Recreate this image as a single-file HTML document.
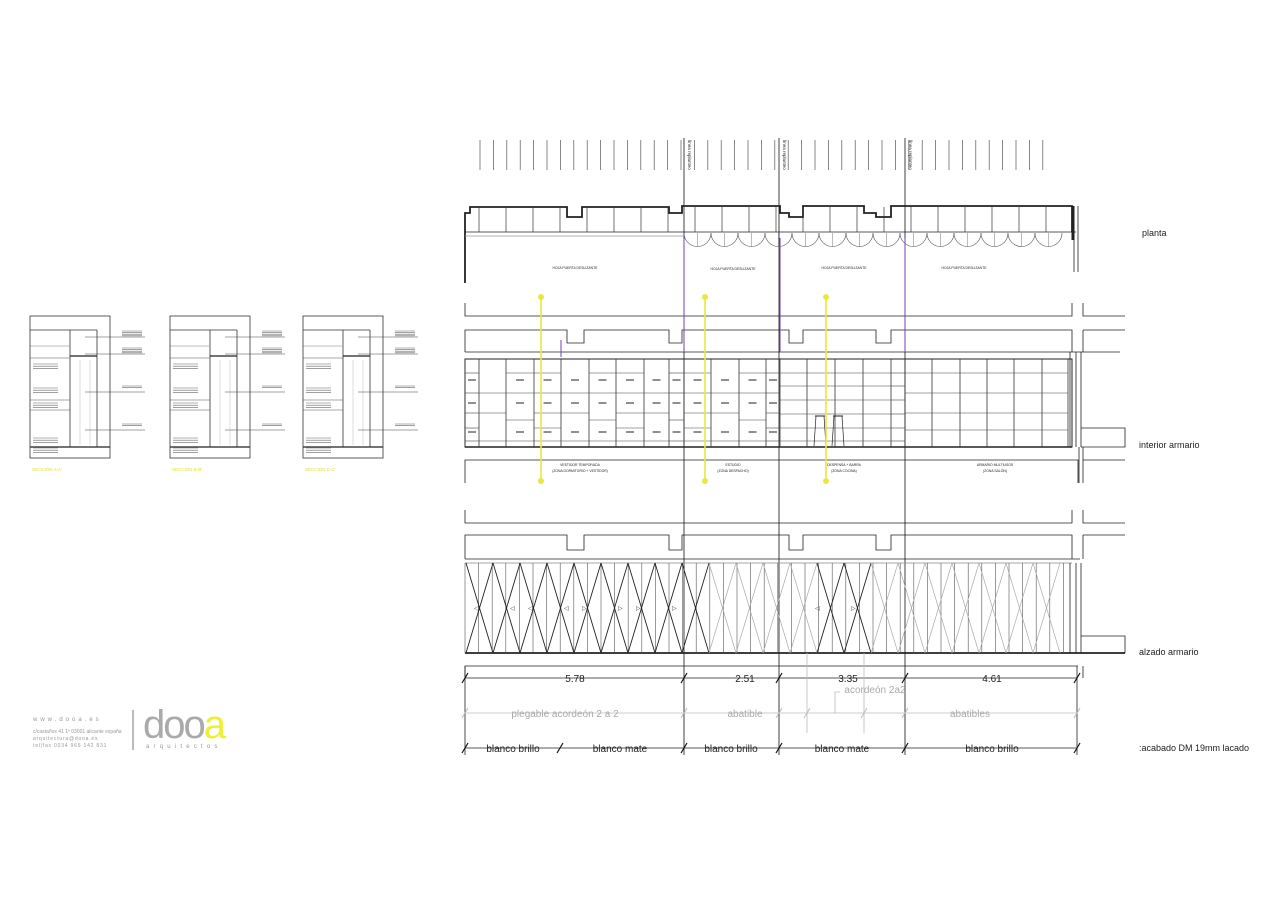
<!DOCTYPE html>
<html><head><meta charset="utf-8"><style>
html,body{margin:0;padding:0;background:#fff;}
svg{display:block;font-family:"Liberation Sans",sans-serif;}
</style></head><body>
<svg id="s" width="1280" height="905" viewBox="0 0 1280 905" xmlns="http://www.w3.org/2000/svg">
<g id="g" fill="none" stroke="#222" stroke-width="0.8">
<line x1="684" y1="138" x2="684" y2="755" stroke="#111"/>
<line x1="779" y1="138" x2="779" y2="755" stroke="#111"/>
<line x1="905" y1="138" x2="905" y2="755" stroke="#111"/>
<path d="M465,283 V213 H470 V207 H567 V217 H582 V207 H669 V213 H682 V206 H780 V213 H789 V217 H803 V206 H864 V213 H876 V217 H891 V206 H1072 V232" stroke-width="1.8"/>
<line x1="465" y1="232" x2="1076" y2="232"/>
<line x1="465" y1="236" x2="684" y2="236" stroke="#999"/>
<line x1="1073" y1="206" x2="1073" y2="240" stroke-width="3"/>
<line x1="1078" y1="206" x2="1078" y2="272"/>
<line x1="1074" y1="240" x2="1074" y2="272"/>
<path d="M465,303 V316 H1072 V303"/>
<path d="M1083,303 V316 H1125"/>
<path d="M465,352 V330 H567 V343 H584 V330 H669 V343 H682 V330 H789 V343 H803 V330 H876 V343 H891 V330 H1072 V352"/>
<path d="M1083,330 H1125 M1083,330 V352"/>
<line x1="465" y1="352" x2="1120" y2="352"/>
<line x1="465" y1="359" x2="1072" y2="359"/>
<rect x="465" y="359" width="607" height="88" stroke-width="1"/>
<line x1="465" y1="447" x2="1072" y2="447" stroke-width="1.6"/>
<line x1="1070" y1="352" x2="1070" y2="447"/><line x1="1076" y1="352" x2="1076" y2="447"/><line x1="1081" y1="352" x2="1081" y2="447"/>
<path d="M1081,428 H1125 V447 H1081"/>
<path d="M465,483 V460 H1078 V483"/>
<path d="M1083,483 V460 H1125 M1083,447 V483 M1079,447 V483"/>
<path d="M465,510 V523 H1072 V510"/>
<path d="M1083,510 V523 H1125"/>
<path d="M465,559 V535 H567 V550 H584 V535 H669 V550 H682 V535 H789 V550 H803 V535 H876 V550 H891 V535 H1072 V559"/>
<path d="M1083,535 H1125 M1083,535 V559"/>
<line x1="465" y1="559" x2="1080" y2="559"/>
<line x1="465" y1="563" x2="1072" y2="563" stroke="#888"/>
<line x1="465" y1="653" x2="1125" y2="653" stroke-width="1.8"/>
<path d="M1081,636 H1125 V653"/>
<line x1="1070" y1="563" x2="1070" y2="653"/><line x1="1076" y1="563" x2="1076" y2="653"/><line x1="1081" y1="563" x2="1081" y2="653"/>
<path d="M465,678 V666 H1078"/>
<line x1="1083" y1="666" x2="1083" y2="678"/>
<line x1="465" y1="678" x2="1077" y2="678" stroke-width="0.7"/>
<line x1="465" y1="713" x2="1077" y2="713" stroke="#bbb"/>
<line x1="465" y1="748" x2="1077" y2="748" stroke-width="0.7"/>
<line x1="465" y1="666" x2="465" y2="755"/>
<line x1="1077" y1="666" x2="1077" y2="755"/>
<line x1="807" y1="653" x2="807" y2="733" stroke="#bbb"/>
<line x1="864" y1="653" x2="864" y2="733" stroke="#bbb"/>
<path d="M835,713 V692 H840" stroke="#bbb"/>
</g>
<g id="tx" font-size="3.4" fill="#222" text-anchor="middle">
<text x="575" y="269">HOJA PUERTA DESLIZANTE</text>
<text x="733" y="270">HOJA PUERTA DESLIZANTE</text>
<text x="844" y="269">HOJA PUERTA DESLIZANTE</text>
<text x="964" y="269">HOJA PUERTA DESLIZANTE</text>
<text x="580" y="466">VESTIDOR TEMPORADA</text><text x="580" y="472">(ZONA DORMITORIO + VESTIDOR)</text>
<text x="733" y="466">ESTUDIO</text><text x="733" y="472">(ZONA DESPACHO)</text>
<text x="844" y="466">DESPENSA + BARRA</text><text x="844" y="472">(ZONA COCINA)</text>
<text x="995" y="466">ARMARIO MULTIUSOS</text><text x="995" y="472">(ZONA SALÓN)</text>
</g>
<g font-size="4.5" fill="#222">
<text transform="translate(688,140) rotate(90)">línea replanteo</text>
<text transform="translate(783,140) rotate(90)">línea replanteo</text>
<text transform="translate(909,140) rotate(90)">línea replanteo</text>
</g>
<g font-size="10" fill="#222" text-anchor="middle">
<text x="575" y="682">5.78</text><text x="745" y="682">2.51</text><text x="848" y="682">3.35</text><text x="992" y="682">4.61</text>
</g>
<g font-size="10" fill="#aaa" text-anchor="middle">
<text x="565" y="717">plegable acordeón 2 a 2</text><text x="745" y="717">abatible</text><text x="970" y="717">abatibles</text>
<text x="875" y="693">acordeón 2a2</text>
</g>
<g font-size="10" fill="#222" text-anchor="middle">
<text x="513" y="752">blanco brillo</text><text x="620" y="752">blanco mate</text><text x="731" y="752">blanco brillo</text><text x="842" y="752">blanco mate</text><text x="992" y="752">blanco brillo</text>
</g>
<g font-size="9" fill="#222">
<text x="1142" y="236">planta</text>
<text x="1139" y="448">interior armario</text>
<text x="1139" y="655">alzado armario</text>
<text x="1139" y="751">:acabado DM 19mm lacado</text>
</g>
<g fill="#999">
<text x="33" y="721" font-size="6" letter-spacing="3">www.dooa.es</text>
<text x="33" y="733" font-size="5">c/castaños 41 1º 03001 alicante españa</text>
<text x="33" y="740" font-size="5" letter-spacing="0.8">arquitectura@dooa.es</text>
<text x="33" y="747" font-size="5" letter-spacing="0.8">tel|fax 0034 965 142 831</text>
<rect x="132" y="710" width="2" height="40" fill="#bbb"/>
<text x="143" y="738" font-size="40" letter-spacing="-2" fill="#aaa">doo<tspan fill="#ee3">a</tspan></text>
<text x="146" y="748" font-size="6" letter-spacing="4.2">arquitectos</text>
</g>
</svg>
<script>
var ns="http://www.w3.org/2000/svg",g=document.getElementById('g'),s=document.getElementById('s');
function L(x1,y1,x2,y2,c,w){var l=document.createElementNS(ns,'line');l.setAttribute('x1',x1);l.setAttribute('y1',y1);l.setAttribute('x2',x2);l.setAttribute('y2',y2);l.setAttribute('stroke',c||'#222');l.setAttribute('stroke-width',w||0.8);g.appendChild(l);}
function T(x,y,t,sz,c,anchor){var e=document.createElementNS(ns,'text');e.setAttribute('x',x);e.setAttribute('y',y);e.setAttribute('font-size',sz);e.setAttribute('fill',c||'#222');if(anchor)e.setAttribute('text-anchor',anchor);e.textContent=t;s.appendChild(e);}
for(var x=480;x<=1050;x+=13.4)L(x,140,x,170,'#555',0.7);
for(var x=479;x<1072;x+=27){L(x,207,x,232,'#333',0.7);}
for(var x=684;x+27<=1072;x+=27){var p=document.createElementNS(ns,'path');p.setAttribute('d','M'+x+',233 A13.5,13.5 0 0 0 '+(x+27)+',233');p.setAttribute('fill','none');p.setAttribute('stroke','#555');p.setAttribute('stroke-width','0.6');g.appendChild(p);L(x+13.5,233,x+13.5,247,'#777',0.5);}
var cols=[465,479,506,534,561,589,616,644,669,684,711,739,766,780,807,835,863,891,905,932,960,987,1014,1042,1068];
cols.forEach(function(x){L(x,359,x,447,'#333',0.8);});
for(var i=0;i<cols.length-1;i++){var a=cols[i],b=cols[i+1];var rows=(i%3==0)?[373,393,413,428,441]:(i%3==1)?[393,413,441]:[373,393,420,441];if(i>=13&&i<=17)rows=[373,386,400,414,428,441];if(i>=18)rows=[373,393,413,430];rows.forEach(function(y){L(a,y,b,y,'#444',0.6);});
if(i<13&&i!=1){L(a+(b-a)/2-4,380,a+(b-a)/2+4,380,'#222',1);L(a+(b-a)/2-4,403,a+(b-a)/2+4,403,'#222',1);L(a+(b-a)/2-4,432,a+(b-a)/2+4,432,'#222',1);}}
[[820,416],[838,416]].forEach(function(p){L(p[0]-5,p[1],p[0]+5,p[1],'#222',1);L(p[0]-4,p[1],p[0]-6,446,'#222',0.7);L(p[0]+4,p[1],p[0]+6,446,'#222',0.7);});
[541,705,826].forEach(function(x){L(x,297,x,481,'#e8e840',1.6);var c=document.createElementNS(ns,'circle');c.setAttribute('cx',x);c.setAttribute('cy',297);c.setAttribute('r',3);c.setAttribute('fill','#e8e840');s.appendChild(c);var c2=c.cloneNode();c2.setAttribute('cy',481);s.appendChild(c2);});
L(561,340,561,357,'#7040c0',1);L(684,238,684,352,'#7040c0',1);L(780,238,780,352,'#7040c0',1);L(905,238,905,352,'#7040c0',1);
for(var x=465;x<=1068;x+=13.6)L(x,563,x,653,'#555',0.6);
for(var x=466;x+27<=1070;x+=27){var dark=(x<684)||(x>=807&&x<860);var c=dark?'#222':'#aaa',w=dark?0.9:0.7;L(x,563,x+27,653,c,w);L(x+27,563,x,653,c,w);}
[479,506,533,560,587,614,641,668,820,847].forEach(function(x,i){T(x+(i%2?4:-5),610,i<4||i==8?'◁':'▷',6,'#333');});
[465,684,779,905,1077].forEach(function(x){L(x-3,683,x+3,673,'#111',1.2);});
[465,684,779,807,864,905,1077].forEach(function(x){L(x-3,718,x+3,708,'#bbb',1);});
[465,560,684,779,905,1077].forEach(function(x){L(x-3,753,x+3,743,'#111',1.2);});
[0,140,273].forEach(function(o,k){
 var r=document.createElementNS(ns,'rect');r.setAttribute('x',30+o);r.setAttribute('y',316);r.setAttribute('width',80);r.setAttribute('height',142);r.setAttribute('fill','none');r.setAttribute('stroke','#333');r.setAttribute('stroke-width','0.8');s.appendChild(r);
 L(30+o,330,97+o,330,'#333',0.8);L(70+o,330,70+o,447,'#333',0.8);L(97+o,330,97+o,447,'#333',0.8);
 L(30+o,346,70+o,346,'#aaa',0.8);L(70+o,356,97+o,356,'#222',1.2);L(30+o,447,110+o,447,'#222',1.2);L(30+o,358,70+o,358,'#555',0.5);L(30+o,400,70+o,400,'#555',0.5);L(30+o,410,70+o,410,'#555',0.5);
 L(80+o,360,80+o,445,'#bbb',0.5);L(90+o,360,90+o,445,'#bbb',0.5);
 [[335,4],[352,4],[390,2],[428,2]].forEach(function(q){L(85+o,q[0]+2,145+o,q[0]+2,'#444',0.5);for(var j=0;j<q[1];j++)L(122+o,q[0]-4+j*1.6,142+o,q[0]-4+j*1.6,'#666',0.6);});
 [364,388,403,438,448].forEach(function(y){for(var j=0;j<3;j++)L(33+o,y+j*2.2,58+o,y+j*2.2,'#666',0.6);});
 T(32+o,471,['SECCIÓN A-A\'','SECCIÓN B-B\'','SECCIÓN C-C\''][k],4.5,'#dd3');
});
</script>
</body></html>
